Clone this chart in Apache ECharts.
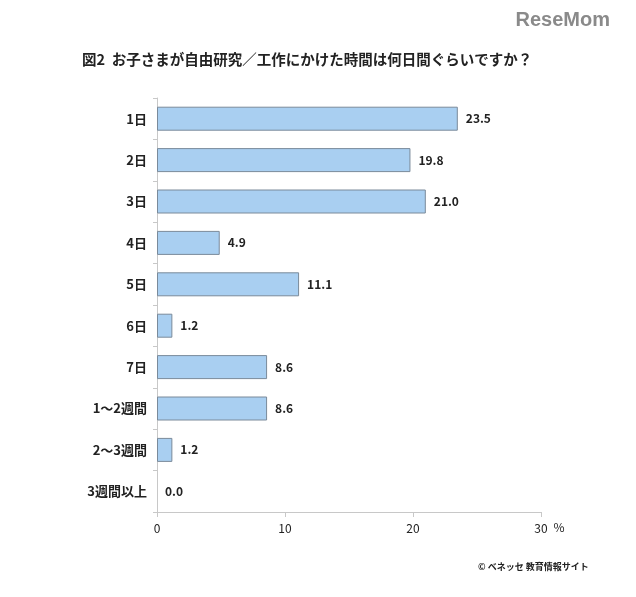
<!DOCTYPE html>
<html><head><meta charset="utf-8">
<script src="https://cdn.jsdelivr.net/npm/echarts@6/dist/echarts.min.js"></script>
<style>html,body{margin:0;padding:0;background:#fff;}#c{width:636px;height:597px;}</style>
</head><body><div id="c"></div>
<script>
const categories = ['1日','2日','3日','4日','5日','6日','7日','1～2週間','2～3週間','3週間以上'];
const values = [23.5, 19.8, 21.0, 4.9, 11.1, 1.2, 8.6, 8.6, 1.2, 0.0];
const xTicks = [0, 10, 20, 30];
const titleText = '図2  お子さまが自由研究／工作にかけた時間は何日間ぐらいですか？';
const FONT = '"Noto Sans CJK JP", "Noto Sans", sans-serif';
const chart = echarts.init(document.getElementById('c'));
chart.setOption({
  backgroundColor: '#fff',
  animation: false,
  title: {
    text: titleText, left: 77, top: 47,
    textStyle: {fontFamily: FONT, fontSize: 14.5, fontWeight: 'bold', color: '#222'}
  },
  graphic: [
    {type: 'text', right: 26, top: 10, style: {text: 'ReseMom', font: 'bold 20px "Liberation Sans", sans-serif', fill: '#8a8a8a'}},
    {type: 'text', left: 478, top: 562, style: {text: '© ベネッセ 教育情報サイト', font: 'bold 9px "Noto Sans CJK JP", sans-serif', fill: '#222'}}
  ],
  grid: {left: 157, right: 95, top: 98, bottom: 85, containLabel: false},
  xAxis: {
    type: 'value', min: xTicks[0], max: xTicks[xTicks.length-1], interval: 10,
    name: '%', nameLocation: 'end', nameGap: 2,
    nameTextStyle: {fontFamily: FONT, fontSize: 12, color: '#222', verticalAlign: 'top', padding: [9,0,0,0]},
    axisLine: {show: true, lineStyle: {color: '#c8c8c8'}},
    axisTick: {show: true, length: 5, lineStyle: {color: '#c8c8c8'}},
    axisLabel: {fontFamily: FONT, fontSize: 12, color: '#222', margin: 10},
    splitLine: {show: false}
  },
  yAxis: {
    type: 'category', data: categories, inverse: true,
    axisLine: {show: true, lineStyle: {color: '#c8c8c8'}},
    axisTick: {show: true, length: 4, lineStyle: {color: '#c8c8c8'}},
    axisLabel: {fontFamily: FONT, fontSize: 13, fontWeight: 'bold', color: '#222', margin: 10}
  },
  series: [{
    type: 'bar', barWidth: 24,
    data: values.map(v => v === 0 ? {value: v, itemStyle: {borderWidth: 0}} : v),
    itemStyle: {color: '#a9cff1', borderColor: '#7a8a9a', borderWidth: 1},
    label: {show: true, position: 'right', distance: 8, formatter: p => Number(p.value).toFixed(1),
      fontFamily: FONT, fontSize: 12, fontWeight: 'bold', color: '#222'}
  }]
});
</script></body></html>
